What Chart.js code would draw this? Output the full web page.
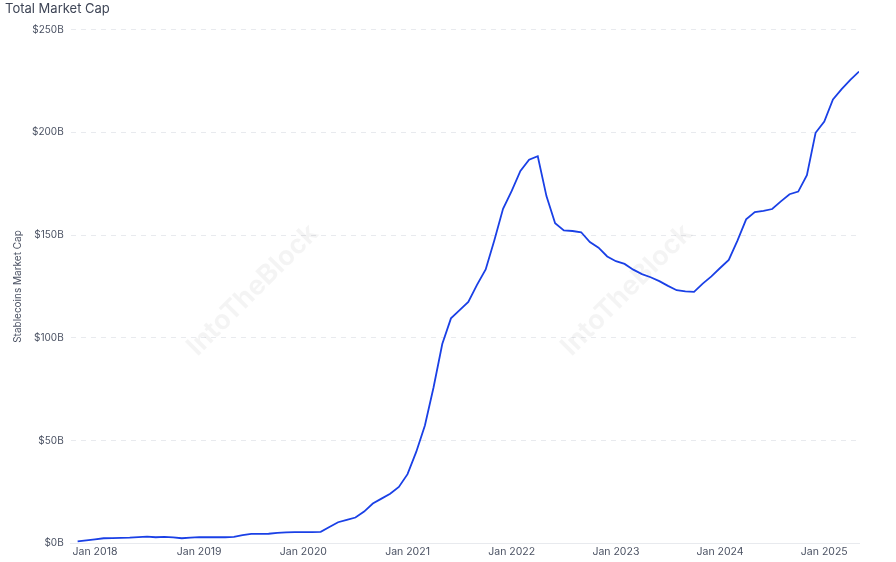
<!DOCTYPE html>
<html>
<head>
<meta charset="utf-8">
<script src="https://cdn.jsdelivr.net/npm/chart.js@4.4.1/dist/chart.umd.min.js"></script>
<style>
  html, body { margin: 0; padding: 0; background: #fff; }
  #wrap { width: 896px; height: 562px; }
</style>
</head>
<body>
<div id="wrap"><canvas id="capChart" width="896" height="562"></canvas></div>
<script>
// monthly stablecoin market cap, Nov 2017 .. May 2025 (billions USD)
const marketCap = [
    1.0, 1.5, 2.0, 2.5, 2.6, 2.7, 2.8, 3.1, 3.3, 3.0, 3.2, 2.9,
    2.5, 2.8, 3.1, 3.0, 3.0, 3.0, 3.2, 4.0, 4.6, 4.6, 4.7, 5.1,
    5.4, 5.5, 5.5, 5.5, 5.6, 8.0, 10.3, 11.5, 12.6, 15.5, 19.4, 21.8,
    24.2, 27.5, 33.7, 44.5, 57.4, 76.0, 97.0, 109.5, 113.5, 117.5, 125.8, 133.3,
    147.5, 162.8, 171.5, 181.2, 186.7, 188.4, 169.0, 155.8, 152.3, 152.0, 151.4, 146.6,
    143.9, 139.6, 137.3, 136.0, 133.2, 131.0, 129.5, 127.6, 125.3, 123.2, 122.6, 122.4,
    126.4, 129.9, 134.0, 137.9, 147.3, 157.7, 161.2, 161.8, 162.7, 166.4, 169.9, 171.2,
    179.2, 199.8, 205.3, 216.0, 221.0, 225.5, 229.6
];

// x tick labels and the month index they sit on
const tickLabels = ['Jan 2018', 'Jan 2019', 'Jan 2020', 'Jan 2021', 'Jan 2022', 'Jan 2023', 'Jan 2024', 'Jan 2025'];
const tickIndex = [2, 14, 26, 38, 50, 62, 74, 86];

const yTicks = [0, 50, 100, 150, 200, 250];

const points = marketCap.map((v, i) => ({ x: i, y: v }));

const textColor = '#4b5263';
const gridColor = '#e8eaee';

// faint diagonal watermark behind the line
const watermark = {
    id: 'watermark',
    beforeDatasetsDraw(chart) {
        const ctx = chart.ctx;
        const spots = [[243, 300], [617, 300]];
        ctx.save();
        ctx.fillStyle = 'rgba(0, 0, 0, 0.045)';
        ctx.font = 'bold 27px Inter';
        ctx.textAlign = 'center';
        ctx.textBaseline = 'middle';
        spots.forEach(([x, y]) => {
            ctx.save();
            ctx.translate(x, y);
            ctx.rotate(-Math.PI / 4);
            ctx.fillText('IntoTheBlock', 14, 0);
            ctx.restore();
        });
        ctx.restore();
    }
};

new Chart(document.getElementById('capChart'), {
    type: 'line',
    data: {
        datasets: [{
            label: 'Stablecoins Market Cap',
            data: points,
            borderColor: '#1a40e6',
            borderWidth: 1.8,
            pointRadius: 0,
            tension: 0,
            fill: false
        }]
    },
    plugins: [watermark],
    options: {
        responsive: false,
        animation: false,
        layout: { padding: { left: 5, right: 37, top: 0, bottom: 2 } },
        plugins: {
            legend: { display: false },
            tooltip: { enabled: false },
            title: {
                display: true,
                text: 'Total Market Cap',
                align: 'start',
                color: '#3e4556',
                font: { family: 'Inter', size: 13, weight: 'normal' },
                padding: { top: 1, bottom: 13 }
            }
        },
        scales: {
            x: {
                type: 'linear',
                min: -0.8,
                max: marketCap.length - 1,
                grid: { display: false, drawTicks: false },
                border: { display: true, color: gridColor },
                afterBuildTicks: (scale) => {
                    scale.ticks = tickIndex.map(v => ({ value: v }));
                },
                ticks: {
                    autoSkip: false,
                    maxRotation: 0,
                    padding: 2,
                    color: textColor,
                    font: { family: 'Inter', size: 10.5 },
                    callback: (v) => tickLabels[tickIndex.indexOf(v)] || ''
                }
            },
            y: {
                min: 0,
                max: 250,
                afterBuildTicks: (scale) => {
                    scale.ticks = yTicks.map(v => ({ value: v }));
                },
                grid: {
                    color: (ctx) => ctx.tick && ctx.tick.value === 0 ? 'rgba(0,0,0,0)' : gridColor,
                    drawTicks: false
                },
                border: { display: false, dash: [5, 5] },
                ticks: {
                    padding: 7,
                    color: textColor,
                    font: { family: 'Inter', size: 10 },
                    callback: (v) => '$' + v + 'B'
                },
                title: {
                    display: true,
                    text: 'Stablecoins Market Cap',
                    color: textColor,
                    font: { family: 'Inter', size: 10 },
                    padding: { top: 7, bottom: 1 }
                }
            }
        }
    }
});
</script>
</body>
</html>
